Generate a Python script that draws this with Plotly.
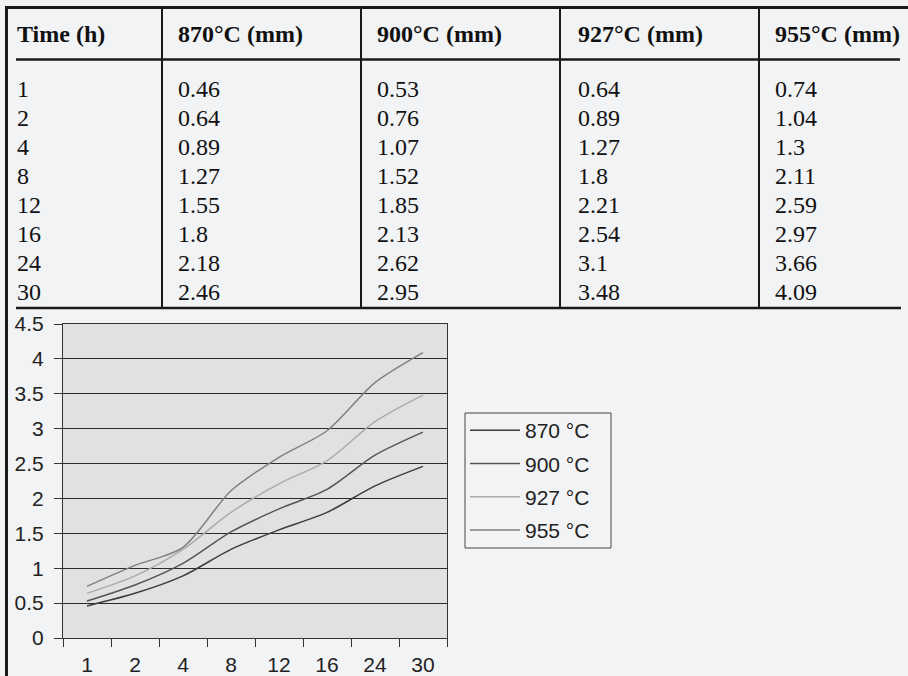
import plotly.graph_objects as go

# ---- data ----
times = ["1", "2", "4", "8", "12", "16", "24", "30"]
depth_870 = [0.46, 0.64, 0.89, 1.27, 1.55, 1.8, 2.18, 2.46]
depth_900 = [0.53, 0.76, 1.07, 1.52, 1.85, 2.13, 2.62, 2.95]
depth_927 = [0.64, 0.89, 1.27, 1.8, 2.21, 2.54, 3.1, 3.48]
depth_955 = [0.74, 1.04, 1.3, 2.11, 2.59, 2.97, 3.66, 4.09]
table_headers = ["Time (h)", "870°C (mm)", "900°C (mm)", "927°C (mm)", "955°C (mm)"]
legend_names = ["870 °C", "900 °C", "927 °C", "955 °C"]

W, H = 908, 676
BG = "#f2f3f5"
PLOT_BG = "#e0e1e3"
INK = "#1a1a1a"


def px(x):
    return x / W


def py(y):
    return 1 - y / H


fig = go.Figure()

series = [depth_870, depth_900, depth_927, depth_955]
colors = ["#3d3d3d", "#555555", "#ababab", "#808080"]
for i, (name, vals, c) in enumerate(zip(legend_names, series, colors)):
    fig.add_trace(go.Scatter(
        x=times, y=vals, name=name, mode="lines",
        line=dict(color=c, width=1.5, shape="spline", smoothing=0.8),
        legendgroup=f"g{i}",
    ))

shapes = []
annotations = []


def hline(y, x0, x1, w):
    shapes.append(dict(type="line", xref="paper", yref="paper",
                       x0=px(x0), x1=px(x1), y0=py(y), y1=py(y),
                       line=dict(color=INK, width=w)))


def vline(x, y0, y1, w):
    shapes.append(dict(type="line", xref="paper", yref="paper",
                       x0=px(x), x1=px(x), y0=py(y0), y1=py(y1),
                       line=dict(color=INK, width=w)))


# table frame
hline(7.5, 5, 908, 3)
vline(6.5, 6, 676, 3)
hline(59.5, 16, 900, 2.5)
hline(308, 16, 901, 2.5)
for sx in [162, 361, 560, 759]:
    vline(sx, 7, 308, 2)

# legend frame
shapes.append(dict(type="rect", xref="paper", yref="paper",
                   x0=px(465), x1=px(611), y0=py(548), y1=py(413),
                   line=dict(color="#444", width=1), fillcolor="rgba(0,0,0,0)"))

col_x = [15, 176, 375, 576, 773]
serif = "Liberation Serif, Times New Roman, serif"
for cx, htxt in zip(col_x, table_headers):
    annotations.append(dict(xref="paper", yref="paper", x=px(cx), y=py(34),
                            xanchor="left", yanchor="middle", showarrow=False,
                            text=f"<b>{htxt}</b>",
                            font=dict(family=serif, size=24, color="#111")))

columns = [times] + [[str(v) for v in s] for s in series]
for r in range(len(times)):
    yrow = 89 + r * 29
    for cx, col in zip(col_x, columns):
        annotations.append(dict(xref="paper", yref="paper", x=px(cx), y=py(yrow),
                                xanchor="left", yanchor="middle", showarrow=False,
                                text=col[r],
                                font=dict(family=serif, size=24, color="#111")))

sans = "Liberation Sans, Arial, sans-serif"
fig.update_layout(
    width=W, height=H,
    margin=dict(l=0, r=0, t=0, b=0, autoexpand=False),
    paper_bgcolor=BG, plot_bgcolor=PLOT_BG,
    font=dict(family=sans, size=21, color="#222"),
    shapes=shapes, annotations=annotations,
    showlegend=True,
    legend=dict(x=px(465), y=py(410), xanchor="left", yanchor="top",
                bgcolor="rgba(0,0,0,0)", borderwidth=0,
                font=dict(family=sans, size=21, color="#222"),
                traceorder="grouped", tracegroupgap=3, itemwidth=50),
    xaxis=dict(domain=[px(63), px(447)], type="category",
               range=[-0.5, 7.5], tickson="boundaries",
               ticks="outside", ticklen=8, tickcolor="#333", tickwidth=1,
               showline=True, linecolor="#333", linewidth=1, mirror=True,
               showgrid=False, zeroline=False, ticklabelstandoff=8),
    yaxis=dict(domain=[py(638), py(324)], range=[0, 4.5], dtick=0.5, tick0=0,
               ticks="outside", ticklen=8, tickcolor="#333", tickwidth=1,
               showline=True, linecolor="#333", linewidth=1, mirror=True,
               showgrid=True, gridcolor="#2a2a2a", gridwidth=1,
               zeroline=False, ticklabelstandoff=6),
)

post = (
    "document.documentElement.style.margin='0';"
    "document.documentElement.style.overflow='hidden';"
    "document.body.style.margin='0';"
    "document.body.style.overflow='hidden';"
    "var g=document.querySelector('.plotly-graph-div');"
    "g.style.position='fixed';g.style.top='0';g.style.left='0';"
)

fig.write_html("out.html", config={"displayModeBar": False}, post_script=post)
